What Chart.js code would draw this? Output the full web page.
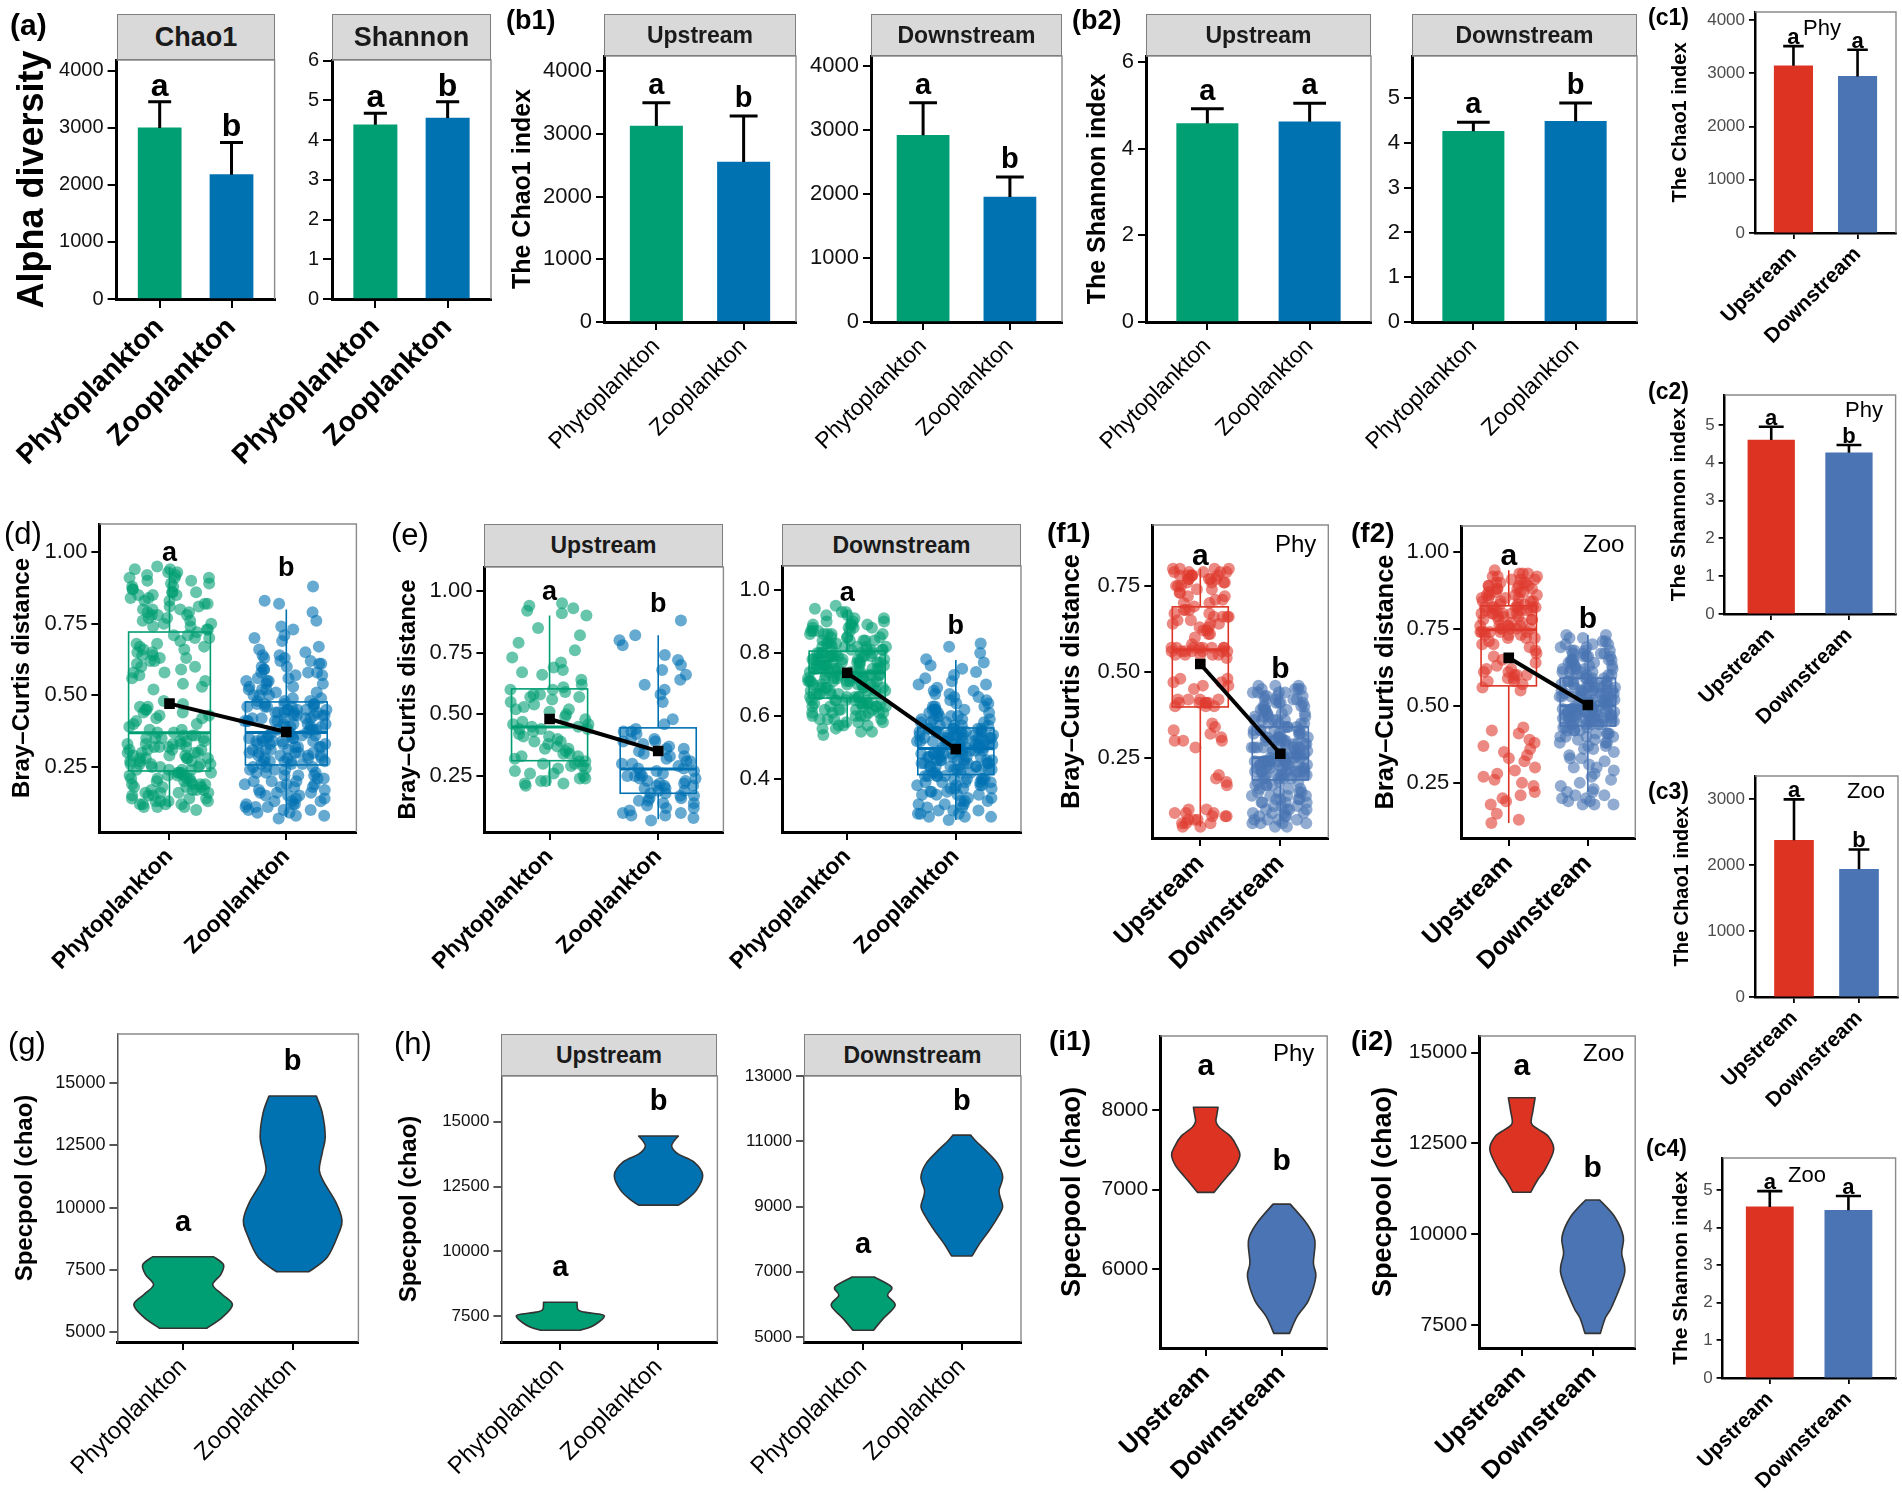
<!DOCTYPE html>
<html><head><meta charset="utf-8">
<script src="https://cdn.jsdelivr.net/npm/chart.js@4.4.1/dist/chart.umd.min.js"></script>
<style>
html,body{margin:0;padding:0;background:#fff;width:1902px;height:1502px;overflow:hidden;}
#root{position:relative;width:1902px;height:1502px;overflow:hidden;background:#fff;font-family:'Liberation Sans',Arial,Helvetica,sans-serif;}
.tag{position:absolute;line-height:1;color:#000;white-space:nowrap;}
.strip{position:absolute;box-sizing:border-box;background:#d9d9d9;border:1.5px solid #7f7f7f;display:flex;align-items:center;justify-content:center;font-weight:bold;color:#1a1a1a;white-space:nowrap;}
canvas{position:absolute;}
</style></head><body><div id="root"></div>
<script>
// ---------------- DATA ----------------
const plankton = ['Phytoplankton', 'Zooplankton'];
const sites = ['Upstream', 'Downstream'];

// (a) Alpha diversity (mean bar, upper error value, significance letters)
const aChao1Mean = [3000, 2180];
const aChao1Upper = [3460, 2745];
const aChao1Sig = ['a', 'b'];
const aShannonMean = [4.39, 4.56];
const aShannonUpper = [4.68, 4.97];
const aShannonSig = ['a', 'b'];
// (b1) Chao1 by site
const b1UpMean = [3128, 2553];
const b1UpUpper = [3500, 3287];
const b1UpSig = ['a', 'b'];
const b1DownMean = [2917, 1953];
const b1DownUpper = [3427, 2266];
const b1DownSig = ['a', 'b'];
// (b2) Shannon by site
const b2UpMean = [4.58, 4.62];
const b2UpUpper = [4.92, 5.05];
const b2UpSig = ['a', 'a'];
const b2DownMean = [4.26, 4.48];
const b2DownUpper = [4.46, 4.89];
const b2DownSig = ['a', 'b'];
// (c1)-(c4)
const c1Mean = [3140, 2940];
const c1Upper = [3510, 3440];
const c1Sig = ['a', 'a'];
const c2Mean = [4.60, 4.26];
const c2Upper = [4.95, 4.47];
const c2Sig = ['a', 'b'];
const c3Mean = [2380, 1940];
const c3Upper = [3000, 2240];
const c3Sig = ['a', 'b'];
const c4Mean = [4.55, 4.46];
const c4Upper = [4.97, 4.84];
const c4Sig = ['a', 'a'];

// tick values
const ticksChao4000 = [0, 1000, 2000, 3000, 4000];
const ticksChao3000 = [0, 1000, 2000, 3000];
const ticksSh6 = [0, 1, 2, 3, 4, 5, 6];
const ticksSh6b = [0, 2, 4, 6];
const ticksSh5 = [0, 1, 2, 3, 4, 5];
const ticksBC = [0.25, 0.5, 0.75, 1.0];
const ticksBC3 = [0.25, 0.5, 0.75];
const ticksBCd = [0.4, 0.6, 0.8, 1.0];
const ticksG = [5000, 7500, 10000, 12500, 15000];
const ticksHu = [7500, 10000, 12500, 15000];
const ticksHd = [5000, 7000, 9000, 11000, 13000];
const ticksI1 = [6000, 7000, 8000];
const ticksI2 = [7500, 10000, 12500, 15000];

// (d) Bray-Curtis distances
const dPhy = [0.11,0.11,0.12,0.12,0.13,0.13,0.14,0.15,0.15,0.16,0.16,0.17,0.17,0.18,0.18,0.19,0.19,0.20,0.20,0.21,0.21,0.22,0.22,0.23,0.23,
0.24,0.24,0.25,0.25,0.26,0.26,0.27,0.27,0.28,0.28,0.29,0.29,0.30,0.30,0.31,0.31,0.32,0.32,0.33,0.33,0.34,0.35,0.35,0.36,0.37,
0.38,0.39,0.40,0.41,0.42,0.43,0.44,0.45,0.46,0.47,0.53,0.55,0.57,0.58,0.60,0.61,0.62,0.63,0.64,0.65,0.66,0.67,0.68,0.70,0.71,
0.73,0.74,0.75,0.76,0.77,0.78,0.78,0.79,0.80,0.81,0.82,0.83,0.84,0.85,0.85,0.86,0.87,0.88,0.89,0.90,0.91,0.92,0.93,0.94,0.95,
0.10,0.11,0.12,0.13,0.13,0.14,0.14,0.15,0.16,0.16,0.17,0.18,0.18,0.19,0.19,0.20,0.21,0.21,0.22,0.22,0.23,0.23,0.24,0.12,0.17,
0.24,0.25,0.26,0.26,0.27,0.28,0.28,0.29,0.30,0.30,0.31,0.32,0.32,0.33,0.34,0.34,0.35,0.36,0.36,0.37,0.28,0.31,0.33,0.26,0.35,
0.38,0.40,0.42,0.43,0.44,0.45,0.46,0.48,0.52,0.54,0.56,0.58,0.59,0.60,0.62,0.63,0.64,0.65,0.66,0.67,0.68,0.69,0.70,0.71,0.72,
0.73,0.74,0.76,0.77,0.78,0.79,0.80,0.81,0.82,0.83,0.84,0.85,0.86,0.87,0.88,0.89,0.90,0.91,0.92,0.93,0.94,0.75,0.80,0.86,0.91];
const dZoo = [0.07,0.08,0.09,0.10,0.10,0.11,0.12,0.13,0.13,0.14,0.15,0.16,0.16,0.17,0.18,0.19,0.19,0.20,0.21,0.22,0.22,0.23,0.24,0.25,0.25,
0.26,0.26,0.27,0.27,0.28,0.28,0.29,0.29,0.30,0.30,0.31,0.31,0.32,0.32,0.33,0.33,0.34,0.34,0.35,0.35,0.35,0.36,0.36,0.37,0.37,
0.38,0.38,0.39,0.39,0.40,0.40,0.41,0.41,0.42,0.42,0.43,0.43,0.44,0.44,0.44,0.45,0.45,0.46,0.46,0.46,0.47,0.47,0.47,0.48,0.48,
0.49,0.50,0.51,0.52,0.53,0.54,0.55,0.56,0.57,0.58,0.59,0.60,0.61,0.62,0.63,0.64,0.65,0.67,0.69,0.71,0.73,0.76,0.79,0.82,0.88,
0.08,0.09,0.10,0.11,0.12,0.12,0.13,0.14,0.15,0.15,0.16,0.17,0.18,0.18,0.19,0.20,0.20,0.21,0.22,0.23,0.23,0.24,0.24,0.25,0.11,
0.26,0.27,0.27,0.28,0.28,0.29,0.30,0.30,0.31,0.31,0.32,0.33,0.33,0.34,0.34,0.35,0.35,0.36,0.36,0.37,0.29,0.32,0.34,0.30,0.27,
0.37,0.38,0.39,0.39,0.40,0.41,0.41,0.42,0.42,0.43,0.43,0.44,0.45,0.45,0.46,0.46,0.47,0.47,0.40,0.42,0.44,0.38,0.41,0.45,0.43,
0.48,0.49,0.50,0.51,0.52,0.53,0.54,0.55,0.56,0.57,0.58,0.59,0.60,0.61,0.62,0.63,0.64,0.52,0.55,0.50,0.58,0.66,0.70,0.74,0.83];
const dBox = [{lo:0.11,q1:0.236,med:0.369,q3:0.721,hi:0.945},{lo:0.075,q1:0.257,med:0.37,q3:0.477,hi:0.80}];
const dMean = [0.471, 0.372];
const dSig = ['a', 'b'];
const dSigY = [0.996, 0.944];

// (e) Upstream / Downstream
const eUpPhy = [0.21,0.22,0.22,0.23,0.23,0.24,0.25,0.26,0.27,0.28,0.28,0.29,0.30,0.30,0.31,
0.32,0.33,0.34,0.34,0.35,0.36,0.37,0.38,0.39,0.40,0.41,0.42,0.43,0.44,0.44,
0.45,0.46,0.47,0.48,0.50,0.51,0.52,0.53,0.55,0.56,0.57,0.58,0.59,0.60,0.60,
0.62,0.64,0.66,0.68,0.69,0.71,0.73,0.76,0.79,0.82,0.90,0.91,0.92,0.94,0.95,
0.24,0.29,0.33,0.36,0.41,0.44,0.45,0.49,0.54,0.58,0.61,0.67,0.85,0.93,0.26,0.31,0.39,0.46,0.52,0.57];
const eUpZoo = [0.07,0.08,0.09,0.10,0.10,0.11,0.12,0.13,0.14,0.14,0.15,0.16,0.16,0.17,0.18,
0.19,0.19,0.20,0.21,0.21,0.22,0.23,0.23,0.24,0.25,0.25,0.26,0.27,0.27,0.28,
0.29,0.30,0.31,0.32,0.33,0.34,0.35,0.36,0.37,0.38,0.39,0.40,0.42,0.43,0.44,
0.46,0.48,0.55,0.58,0.62,0.64,0.66,0.68,0.70,0.72,0.74,0.78,0.80,0.82,0.88,
0.09,0.12,0.15,0.18,0.20,0.22,0.24,0.26,0.28,0.30,0.33,0.36,0.40,0.43,0.17,0.21,0.25,0.31,0.39,0.60];
const eUpBox = [{lo:0.21,q1:0.312,med:0.449,q3:0.603,hi:0.90},{lo:0.075,q1:0.18,med:0.278,q3:0.445,hi:0.82}];
const eUpMean = [0.481, 0.351];
const eUpSig = ['a', 'b'];
const eUpSigY = [0.992, 0.943];
const eDownPhy = [0.54,0.55,0.56,0.57,0.57,0.58,0.59,0.59,0.60,0.60,0.61,0.61,0.62,0.62,0.63,0.63,0.63,0.64,0.64,0.64,0.65,0.65,0.65,0.66,0.66,
0.66,0.67,0.67,0.67,0.68,0.68,0.68,0.69,0.69,0.69,0.70,0.70,0.70,0.71,0.71,0.71,0.72,0.72,0.72,0.72,0.73,0.73,0.73,0.74,0.74,
0.74,0.74,0.75,0.75,0.75,0.76,0.76,0.76,0.76,0.77,0.77,0.77,0.78,0.78,0.78,0.78,0.79,0.79,0.79,0.79,0.80,0.80,0.80,0.81,0.81,
0.81,0.82,0.82,0.82,0.83,0.83,0.84,0.84,0.85,0.85,0.86,0.86,0.87,0.87,0.88,0.88,0.89,0.89,0.90,0.90,0.91,0.92,0.93,0.94,0.95,
0.55,0.56,0.58,0.58,0.59,0.60,0.61,0.61,0.62,0.62,0.63,0.63,0.64,0.64,0.64,0.65,0.65,0.65,0.66,0.60,0.62,0.63,0.57,0.59,0.61,
0.66,0.67,0.67,0.68,0.68,0.69,0.69,0.70,0.70,0.70,0.71,0.71,0.71,0.72,0.72,0.72,0.73,0.73,0.73,0.74,0.67,0.69,0.70,0.71,0.72,
0.74,0.75,0.75,0.75,0.76,0.76,0.76,0.77,0.77,0.77,0.78,0.78,0.78,0.79,0.79,0.79,0.80,0.80,0.80,0.75,0.76,0.77,0.78,0.79,0.80,
0.81,0.81,0.82,0.82,0.83,0.83,0.84,0.84,0.85,0.85,0.86,0.86,0.87,0.87,0.88,0.88,0.89,0.89,0.90,0.91,0.92,0.93,0.82,0.84,0.86];
const eDownZoo = [0.27,0.28,0.28,0.29,0.30,0.31,0.32,0.32,0.33,0.34,0.35,0.35,0.36,0.37,0.37,0.38,0.38,0.39,0.39,0.40,0.40,0.40,0.41,0.41,0.41,
0.42,0.42,0.43,0.43,0.44,0.44,0.44,0.45,0.45,0.45,0.46,0.46,0.46,0.47,0.47,0.47,0.48,0.48,0.48,0.48,0.49,0.49,0.49,0.50,0.50,
0.50,0.50,0.51,0.51,0.51,0.52,0.52,0.52,0.52,0.53,0.53,0.53,0.53,0.54,0.54,0.54,0.54,0.55,0.55,0.55,0.55,0.56,0.56,0.56,0.56,
0.57,0.57,0.58,0.58,0.59,0.59,0.60,0.60,0.61,0.62,0.62,0.63,0.64,0.65,0.66,0.67,0.68,0.70,0.71,0.73,0.75,0.77,0.80,0.82,0.83,
0.28,0.29,0.30,0.30,0.31,0.32,0.33,0.33,0.34,0.35,0.36,0.36,0.37,0.38,0.38,0.39,0.39,0.40,0.40,0.41,0.41,0.35,0.37,0.39,0.29,
0.42,0.42,0.43,0.43,0.43,0.44,0.44,0.45,0.45,0.46,0.46,0.46,0.47,0.47,0.48,0.48,0.48,0.49,0.49,0.49,0.44,0.45,0.47,0.43,0.46,
0.50,0.50,0.51,0.51,0.51,0.52,0.52,0.52,0.53,0.53,0.53,0.54,0.54,0.54,0.55,0.55,0.55,0.56,0.56,0.51,0.52,0.53,0.54,0.55,0.50,
0.57,0.57,0.58,0.58,0.59,0.59,0.60,0.61,0.61,0.62,0.63,0.63,0.64,0.65,0.66,0.67,0.68,0.69,0.70,0.72,0.74,0.76,0.78,0.60,0.62];
const eDownBox = [{lo:0.565,q1:0.657,med:0.737,q3:0.806,hi:0.935},{lo:0.27,q1:0.414,med:0.497,q3:0.562,hi:0.778}];
const eDownMean = [0.737, 0.495];
const eDownSig = ['a', 'b'];
const eDownSigY = [0.99, 0.883];

// (f1) Phy, (f2) Zoo
const f1Up = [0.05,0.06,0.06,0.07,0.07,0.08,0.08,0.09,0.09,0.10,0.17,0.19,0.20,0.28,0.30,0.30,0.31,0.32,0.34,0.35,
0.40,0.40,0.41,0.41,0.41,0.42,0.42,0.42,0.45,0.46,0.47,0.47,0.48,0.54,0.55,0.55,0.55,0.56,0.56,0.56,
0.56,0.57,0.57,0.57,0.57,0.57,0.57,0.60,0.61,0.62,0.63,0.64,0.64,0.65,0.66,0.66,0.67,0.68,0.68,
0.70,0.71,0.72,0.73,0.74,0.75,0.75,0.76,0.76,0.77,0.77,0.77,0.78,0.78,0.78,0.79,0.79,0.79,0.80,0.80,
0.06,0.07,0.08,0.09,0.10,0.05,0.18,0.30,0.33,0.41,0.41,0.42,0.40,0.46,0.48,0.55,0.56,0.56,0.57,0.57,
0.56,0.55,0.58,0.61,0.63,0.65,0.66,0.67,0.68,0.69,0.70,0.72,0.74,0.75,0.76,0.77,0.78,0.78,0.79,0.80,
0.64,0.62,0.66,0.71,0.73,0.76,0.77,0.79,0.80,0.78];
const f1Down = [0.05,0.06,0.06,0.07,0.07,0.08,0.08,0.09,0.09,0.10,0.10,0.11,0.11,0.12,0.12,0.13,0.13,0.14,0.14,0.15,0.15,0.16,0.17,0.17,0.18,
0.19,0.19,0.19,0.20,0.20,0.20,0.21,0.21,0.21,0.22,0.22,0.22,0.23,0.23,0.23,0.23,0.24,0.24,0.24,0.24,0.25,0.25,0.25,0.25,0.25,
0.26,0.26,0.26,0.27,0.27,0.27,0.28,0.28,0.28,0.29,0.29,0.29,0.30,0.30,0.30,0.31,0.31,0.31,0.32,0.32,0.32,0.33,0.33,0.33,0.34,
0.34,0.35,0.35,0.36,0.36,0.37,0.37,0.38,0.38,0.39,0.39,0.40,0.40,0.41,0.41,0.42,0.42,0.43,0.43,0.44,0.44,0.45,0.45,0.46,0.46,
0.05,0.06,0.07,0.07,0.08,0.09,0.09,0.10,0.10,0.11,0.12,0.12,0.13,0.13,0.14,0.14,0.15,0.15,0.16,0.16,0.17,0.17,0.18,0.18,0.06,
0.19,0.19,0.20,0.20,0.20,0.21,0.21,0.21,0.22,0.22,0.22,0.23,0.23,0.23,0.24,0.24,0.24,0.24,0.25,0.25,0.20,0.22,0.23,0.21,0.24,
0.25,0.26,0.26,0.26,0.27,0.27,0.27,0.28,0.28,0.28,0.29,0.29,0.29,0.30,0.30,0.30,0.31,0.31,0.31,0.32,0.32,0.33,0.33,0.34,0.34,
0.35,0.35,0.36,0.36,0.37,0.37,0.38,0.38,0.39,0.39,0.40,0.40,0.41,0.41,0.42,0.42,0.43,0.43,0.44,0.44,0.45,0.45,0.46,0.36,0.39];
const f1Box = [{lo:0.05,q1:0.398,med:0.564,q3:0.689,hi:0.80},{lo:0.05,q1:0.186,med:0.25,q3:0.34,hi:0.46}];
const f1Mean = [0.523, 0.262];
const f1Sig = ['a', 'b'];
const f1SigY = [0.834, 0.506];
const f2Up = [0.12,0.13,0.18,0.19,0.20,0.22,0.24,0.26,0.27,0.29,0.30,0.32,0.34,0.35,0.36,0.37,0.39,0.41,0.43,0.55,
0.57,0.58,0.59,0.60,0.60,0.61,0.62,0.63,0.65,0.67,0.69,0.70,0.71,0.72,0.73,0.73,0.74,0.74,0.74,0.75,
0.75,0.75,0.76,0.76,0.77,0.78,0.78,0.79,0.79,0.80,0.80,0.80,0.81,0.81,0.81,0.82,0.82,0.82,0.82,0.83,
0.84,0.84,0.85,0.85,0.86,0.86,0.87,0.87,0.88,0.88,0.89,0.89,0.90,0.90,0.91,0.91,0.92,0.92,0.93,0.94,
0.15,0.21,0.25,0.28,0.33,0.38,0.42,0.56,0.58,0.59,0.60,0.61,0.62,0.64,0.66,0.68,0.70,0.72,0.73,0.74,
0.74,0.75,0.75,0.76,0.76,0.77,0.78,0.79,0.80,0.80,0.81,0.81,0.82,0.82,0.83,0.83,0.84,0.84,0.85,0.85,
0.86,0.86,0.87,0.87,0.88,0.88,0.89,0.89,0.90,0.90,0.91,0.92,0.93,0.93,0.72,0.74,0.76,0.78,0.80,0.82];
const f2Down = [0.18,0.18,0.19,0.20,0.21,0.22,0.23,0.25,0.27,0.29,0.30,0.32,0.33,0.35,0.36,0.37,0.38,0.39,0.40,0.40,0.41,0.41,0.42,0.42,0.43,
0.44,0.44,0.44,0.45,0.45,0.45,0.46,0.46,0.46,0.47,0.47,0.47,0.47,0.48,0.48,0.48,0.48,0.49,0.49,0.49,0.49,0.50,0.50,0.50,0.50,
0.51,0.51,0.51,0.52,0.52,0.52,0.53,0.53,0.53,0.54,0.54,0.54,0.55,0.55,0.55,0.56,0.56,0.56,0.57,0.57,0.57,0.58,0.58,0.58,0.59,
0.59,0.60,0.60,0.61,0.61,0.62,0.62,0.63,0.63,0.64,0.64,0.65,0.65,0.66,0.66,0.67,0.67,0.68,0.68,0.69,0.70,0.70,0.71,0.72,0.73,
0.18,0.19,0.20,0.21,0.22,0.24,0.26,0.28,0.30,0.31,0.33,0.34,0.36,0.37,0.38,0.39,0.40,0.41,0.41,0.42,0.42,0.43,0.43,0.38,0.40,
0.44,0.44,0.45,0.45,0.45,0.46,0.46,0.46,0.47,0.47,0.47,0.48,0.48,0.48,0.49,0.49,0.49,0.50,0.50,0.44,0.46,0.47,0.48,0.49,0.45,
0.50,0.51,0.51,0.52,0.52,0.53,0.53,0.54,0.54,0.55,0.55,0.56,0.56,0.57,0.57,0.58,0.58,0.59,0.59,0.52,0.53,0.54,0.55,0.56,0.57,
0.60,0.60,0.61,0.61,0.62,0.62,0.63,0.63,0.64,0.64,0.65,0.65,0.66,0.66,0.67,0.67,0.68,0.68,0.69,0.70,0.71,0.72,0.73,0.62,0.65];
const f2Box = [{lo:0.12,q1:0.565,med:0.747,q3:0.825,hi:0.94},{lo:0.22,q1:0.435,med:0.50,q3:0.59,hi:0.73}];
const f2Mean = [0.656, 0.503];
const f2Sig = ['a', 'b'];
const f2SigY = [0.984, 0.779];

// (g)-(i) Specpool violins: [value, relative density]
const gPhyViolin = [[5150,0.48],[5600,0.8],[6100,1.0],[6500,0.8],[6900,0.6],[7300,0.76],[7700,0.82],[8024,0.62]];
const gZooViolin = [[7422,0.33],[8000,0.7],[9000,0.94],[9500,1.0],[10200,0.88],[11000,0.64],[11500,0.54],[12200,0.6],[12843,0.66],[13800,0.6],[14478,0.48]];
const gSig = ['a', 'b'];
const gSigY = [9378, 15855];
const hUpPhyViolin = [[6960,0.45],[7100,0.7],[7250,0.85],[7450,0.98],[7560,0.95],[7660,0.55],[7750,0.4],[8040,0.38]];
const hUpZooViolin = [[11786,0.45],[11980,0.62],[12365,0.86],[12944,1.0],[13450,0.8],[13750,0.45],[14036,0.3],[14250,0.35],[14450,0.45]];
const hUpSig = ['a', 'b'];
const hUpSigY = [9350, 15772];
const hDownPhyViolin = [[5205,0.23],[5563,0.45],[5972,0.72],[6279,0.55],[6534,0.64],[6840,0.25]];
const hDownZooViolin = [[7485,0.23],[7900,0.42],[8273,0.62],[8700,0.82],[8988,0.92],[9300,0.86],[9500,0.84],[9908,0.92],[10328,0.8],[10727,0.53],[11000,0.32],[11187,0.2]];
const hDownSig = ['a', 'b'];
const hDownSigY = [7813, 12209];
const i1UpViolin = [[6966,0.24],[7163,0.62],[7300,0.88],[7435,1.0],[7550,0.9],[7666,0.73],[7780,0.4],[7853,0.3],[7950,0.33],[8034,0.36]];
const i1DownViolin = [[5197,0.23],[5406,0.45],[5615,0.79],[5907,1.0],[6079,0.93],[6368,0.97],[6577,0.73],[6819,0.25]];
const i1Sig = ['a', 'b'];
const i1SigY = [8543, 7350];
const i2UpViolin = [[11155,0.28],[11500,0.5],[11769,0.72],[12320,1.0],[12687,0.84],[12900,0.5],[13055,0.3],[13400,0.35],[13760,0.42]];
const i2DownViolin = [[7270,0.24],[7700,0.4],[8003,0.6],[8922,1.0],[9472,0.91],[9930,0.96],[10482,0.69],[10943,0.22]];
const i2Sig = ['a', 'b'];
const i2SigY = [14614, 11815];

// ---------------- STYLE ----------------
const FONT = "'Liberation Sans', Arial, Helvetica, sans-serif";
const GREEN = '#009e73', BLUE = '#0072b2', RED = '#dc3322', STEEL = '#4a74b3';
const GREEN_A = 'rgba(0,158,115,0.6)', BLUE_A = 'rgba(0,114,178,0.6)';
const RED_A = 'rgba(224,59,46,0.6)', STEEL_A = 'rgba(74,116,179,0.6)';
Chart.defaults.font.family = FONT;
Chart.defaults.animation = false;
const root = document.getElementById('root');
const fmtInt = v => String(Math.round(v));
const fmt2 = v => v.toFixed(2);
const fmt1 = v => v.toFixed(1);
// horizontal spread of jittered points (visual offset only, not data)
const spread = i => { const s = Math.sin(i * 12.9898 + 4.1414) * 43758.5453; return s - Math.floor(s) - 0.5; };

function smooth(ctx, p) {
  for (let i = 0; i < p.length - 1; i++) {
    const p0 = p[Math.max(i - 1, 0)], p1 = p[i], p2 = p[i + 1], p3 = p[Math.min(i + 2, p.length - 1)];
    ctx.bezierCurveTo(p1[0] + (p2[0] - p0[0]) / 6, p1[1] + (p2[1] - p0[1]) / 6,
                      p2[0] - (p3[0] - p1[0]) / 6, p2[1] - (p3[1] - p1[1]) / 6, p2[0], p2[1]);
  }
}

const decor = {
  id: 'decor',
  beforeDatasetsDraw(chart) {
    const o = chart.canvas._deco; if (!o) return;
    const ctx = chart.ctx, x = chart.scales.x, y = chart.scales.y;
    const unit = x.getPixelForValue(2) - x.getPixelForValue(1);
    ctx.save();
    if (o.violins) {
      o.violins.forEach((v, i) => {
        const cx = x.getPixelForValue(i + 1), half = 0.45 * unit;
        const left = v.pts.map(p => [cx - p[1] * half, y.getPixelForValue(p[0])]);
        const right = v.pts.map(p => [cx + p[1] * half, y.getPixelForValue(p[0])]).reverse();
        ctx.beginPath();
        ctx.moveTo(left[0][0], left[0][1]);
        smooth(ctx, left);
        ctx.lineTo(right[0][0], right[0][1]);
        smooth(ctx, right);
        ctx.closePath();
        ctx.fillStyle = v.color; ctx.fill();
        ctx.lineWidth = 1.6; ctx.strokeStyle = '#333'; ctx.lineJoin = 'round'; ctx.stroke();
      });
    }
    if (o.boxes) {
      o.boxes.forEach((b, i) => {
        const cx = x.getPixelForValue(i + 1), hw = 0.35 * unit, py = v => y.getPixelForValue(v);
        ctx.strokeStyle = o.boxColors[i]; ctx.lineWidth = 1.6;
        ctx.strokeRect(cx - hw, py(b.q3), 2 * hw, py(b.q1) - py(b.q3));
        ctx.beginPath();
        ctx.moveTo(cx, py(b.q3)); ctx.lineTo(cx, py(b.hi));
        ctx.moveTo(cx, py(b.q1)); ctx.lineTo(cx, py(b.lo));
        ctx.stroke();
        ctx.lineWidth = 3;
        ctx.beginPath(); ctx.moveTo(cx - hw, py(b.med)); ctx.lineTo(cx + hw, py(b.med)); ctx.stroke();
      });
    }
    ctx.restore();
  },
  afterDatasetsDraw(chart) {
    const o = chart.canvas._deco; if (!o) return;
    const ctx = chart.ctx, ca = chart.chartArea, x = chart.scales.x, y = chart.scales.y;
    const unit = x.getPixelForValue(2) - x.getPixelForValue(1);
    ctx.save();
    if (o.upper) {
      ctx.strokeStyle = '#000'; ctx.lineWidth = o.errW || 3;
      o.upper.forEach((u, i) => {
        const cx = x.getPixelForValue(i + 1), y0 = y.getPixelForValue(o.mean[i]), y1 = y.getPixelForValue(u), hw = 0.16 * unit;
        ctx.beginPath(); ctx.moveTo(cx, y0); ctx.lineTo(cx, y1);
        ctx.moveTo(cx - hw, y1); ctx.lineTo(cx + hw, y1); ctx.stroke();
      });
    }
    ctx.strokeStyle = '#8a8a8a'; ctx.lineWidth = 1.4;
    ctx.beginPath(); ctx.moveTo(ca.left, ca.top); ctx.lineTo(ca.right, ca.top); ctx.lineTo(ca.right, ca.bottom); ctx.stroke();
    if (o.sig) {
      ctx.fillStyle = '#000'; ctx.font = o.sigFont; ctx.textAlign = 'center';
      o.sig.forEach((s, i) => {
        const cx = x.getPixelForValue(i + 1);
        if (o.sigY) { ctx.textBaseline = 'middle'; ctx.fillText(s, cx, y.getPixelForValue(o.sigY[i])); }
        else { ctx.textBaseline = 'alphabetic'; ctx.fillText(s, cx, y.getPixelForValue(o.upper[i]) - o.sigGap); }
      });
    }
    ctx.restore();
  }
};
Chart.register(decor);

function makePanel(p, type, datasets, deco) {
  const [bl, bt, bw, bh] = p.box;
  const EXTRA = 24;
  const L = p.yTitle ? bl - (p.yTitleX - 0.6 * p.yTitleSize) + EXTRA : 170;
  const T = 30, B = p.B;
  const W = Math.ceil(L + bw + 14), H = Math.ceil(T + bh + B);
  const cv = document.createElement('canvas');
  cv.width = W; cv.height = H;
  cv.style.left = (bl - L) + 'px'; cv.style.top = (bt - T) + 'px';
  cv.style.width = W + 'px'; cv.style.height = H + 'px';
  root.appendChild(cv);
  cv._deco = deco;
  const tl = p.tickLen || 8, aw = p.axisW || 3, yac = p.yAxisColor || '#000';
  new Chart(cv, {
    type: type,
    data: { datasets: datasets },
    options: {
      responsive: false, animation: false, devicePixelRatio: 1,
      layout: { padding: { left: 0, top: T, right: W - L - bw, bottom: H - T - bh - B } },
      plugins: { legend: { display: false }, tooltip: { enabled: false }, title: { display: false } },
      scales: {
        x: {
          type: 'linear', min: 0.4, max: 2.6, offset: false,
          afterBuildTicks: s => { s.ticks = [{ value: 1 }, { value: 2 }]; },
          afterFit: s => { s.height = B; s.paddingLeft = 0; s.paddingRight = 0; },
          ticks: { autoSkip: false, minRotation: 45, maxRotation: 45, padding: 3, color: '#000', font: p.xFont,
                   callback: v => p.labels[Math.round(v) - 1] },
          grid: { display: true, drawOnChartArea: false, drawTicks: true, tickLength: tl, color: '#000', lineWidth: p.tickW || 2, offset: false },
          border: { display: true, color: '#000', width: aw }
        },
        y: {
          type: 'linear', min: p.yMin || 0, max: p.yMax,
          afterBuildTicks: s => { s.ticks = p.yTicks.map(v => ({ value: v })); },
          afterFit: s => { s.width = L; s.paddingTop = 0; s.paddingBottom = 0; },
          ticks: { autoSkip: false, padding: 4, color: p.tickColor || '#111', font: p.tickFont, callback: v => p.yFmt(v) },
          grid: { display: true, drawOnChartArea: false, drawTicks: true, tickLength: tl, color: yac, lineWidth: p.tickW || 2 },
          border: { display: true, color: yac, width: p.yAxisW || aw },
          title: p.yTitle ? { display: true, text: p.yTitle, color: '#000', padding: { top: EXTRA, bottom: 0 }, font: { size: p.yTitleSize, weight: 'bold' } } : { display: false }
        }
      }
    }
  });
}

function barPanel(p) {
  const ds = [{ type: 'bar', data: p.mean.map((v, i) => ({ x: i + 1, y: v })), backgroundColor: p.colors,
                borderWidth: 0, barThickness: 0.6 * p.box[2] / 2.2 }];
  makePanel(p, 'bar', ds, { mean: p.mean, upper: p.upper, sig: p.sig, sigFont: p.sigFont, sigGap: p.sigGap, errW: p.errW });
}
function cloud(vals, cat, color, r) {
  return { type: 'scatter', data: vals.map((v, i) => ({ x: cat + 0.72 * spread(i + cat * 1000), y: v })),
           backgroundColor: color, borderWidth: 0, pointRadius: r, pointHoverRadius: r };
}
function meanLine(m) {
  return { type: 'line', data: m.map((v, i) => ({ x: i + 1, y: v })), borderColor: '#000', backgroundColor: '#000',
           borderWidth: 4, pointStyle: 'rect', pointRadius: 7.5, pointBorderWidth: 0, showLine: true, fill: false };
}
function boxPanel(p) {
  const ds = [meanLine(p.mean), cloud(p.vals[0], 1, p.pointColors[0], 6), cloud(p.vals[1], 2, p.pointColors[1], 6)];
  makePanel(p, 'scatter', ds, { boxes: p.boxes, boxColors: p.colors, sig: p.sig, sigY: p.sigY, sigFont: p.sigFont });
}
function violinPanel(p) {
  makePanel(p, 'scatter', [], { violins: [{ pts: p.violins[0], color: p.colors[0] }, { pts: p.violins[1], color: p.colors[1] }],
    sig: p.sig, sigY: p.sigY, sigFont: p.sigFont });
}

// ---------------- PANELS ----------------
const F = (s, w, st) => ({ size: s, weight: w || 'normal', style: st || 'normal' });
// (a)
barPanel({ box: [117, 60, 158, 239], yMax: 4190, yTicks: ticksChao4000, yFmt: fmtInt, yTitle: 'Alpha diversity', yTitleSize: 36, yTitleX: 33,
  labels: plankton, xFont: F(28, 'bold'), tickFont: F(20), tickLen: 9, B: 200, colors: [GREEN, BLUE],
  mean: aChao1Mean, upper: aChao1Upper, sig: aChao1Sig, sigFont: 'bold 32px ' + FONT, sigGap: 6 });
barPanel({ box: [332, 60, 159, 239], yMax: 6.02, yTicks: ticksSh6, yFmt: fmtInt,
  labels: plankton, xFont: F(28, 'bold'), tickFont: F(20), tickLen: 9, B: 200, colors: [GREEN, BLUE],
  mean: aShannonMean, upper: aShannonUpper, sig: aShannonSig, sigFont: 'bold 32px ' + FONT, sigGap: 6 });
// (b1)
barPanel({ box: [604, 56, 192, 266], yMax: 4245, yTicks: ticksChao4000, yFmt: fmtInt, yTitle: 'The Chao1 index', yTitleSize: 25, yTitleX: 523,
  labels: plankton, xFont: F(23), tickFont: F(22), B: 170, colors: [GREEN, BLUE],
  mean: b1UpMean, upper: b1UpUpper, sig: b1UpSig, sigFont: 'bold 29px ' + FONT, sigGap: 9 });
barPanel({ box: [871, 56, 191, 266], yMax: 4156, yTicks: ticksChao4000, yFmt: fmtInt,
  labels: plankton, xFont: F(23), tickFont: F(22), B: 170, colors: [GREEN, BLUE],
  mean: b1DownMean, upper: b1DownUpper, sig: b1DownSig, sigFont: 'bold 29px ' + FONT, sigGap: 9 });
// (b2)
barPanel({ box: [1146, 56, 225, 266], yMax: 6.14, yTicks: ticksSh6b, yFmt: fmtInt, yTitle: 'The Shannon index', yTitleSize: 25, yTitleX: 1098,
  labels: plankton, xFont: F(23), tickFont: F(22), B: 170, colors: [GREEN, BLUE],
  mean: b2UpMean, upper: b2UpUpper, sig: b2UpSig, sigFont: 'bold 29px ' + FONT, sigGap: 9 });
barPanel({ box: [1412, 56, 225, 266], yMax: 5.94, yTicks: ticksSh5, yFmt: fmtInt,
  labels: plankton, xFont: F(23), tickFont: F(22), B: 170, colors: [GREEN, BLUE],
  mean: b2DownMean, upper: b2DownUpper, sig: b2DownSig, sigFont: 'bold 29px ' + FONT, sigGap: 9 });
// (c1)-(c4)
const cCommon = { labels: sites, xFont: F(21, 'bold'), tickFont: F(17), tickColor: '#4d4d4d', tickLen: 6, axisW: 2.5, tickW: 1.8, B: 130,
  colors: [RED, STEEL], sigFont: 'bold 22px ' + FONT, sigGap: 2, errW: 2.6 };
barPanel(Object.assign({}, cCommon, { box: [1755, 12, 141, 221], yMax: 4150, yTicks: ticksChao4000, yFmt: fmtInt, yTitle: 'The Chao1 index', yTitleSize: 20, yTitleX: 1680,
  mean: c1Mean, upper: c1Upper, sig: c1Sig }));
barPanel(Object.assign({}, cCommon, { box: [1725, 395, 171, 219], yMax: 5.79, yTicks: ticksSh5, yFmt: fmtInt, yTitle: 'The Shannon index', yTitleSize: 21, yTitleX: 1680,
  mean: c2Mean, upper: c2Upper, sig: c2Sig }));
barPanel(Object.assign({}, cCommon, { box: [1755, 776, 143, 221], yMax: 3355, yTicks: ticksChao3000, yFmt: fmtInt, yTitle: 'The Chao1 index', yTitleSize: 20, yTitleX: 1682,
  mean: c3Mean, upper: c3Upper, sig: c3Sig }));
barPanel(Object.assign({}, cCommon, { box: [1723, 1158, 173, 220], yMax: 5.85, yTicks: ticksSh5, yFmt: fmtInt, yTitle: 'The Shannon index', yTitleSize: 21, yTitleX: 1682,
  mean: c4Mean, upper: c4Upper, sig: c4Sig }));
// (d), (e)
const bcCommon = { labels: plankton, xFont: F(23, 'bold'), tickFont: F(22), B: 180, colors: [GREEN, BLUE], pointColors: [GREEN_A, BLUE_A],
  sigFont: 'bold 27px ' + FONT, yTitleSize: 24 };
boxPanel(Object.assign({}, bcCommon, { box: [99, 524, 257, 308], yMin: 0.023, yMax: 1.098, yTicks: ticksBC, yFmt: fmt2,
  yTitle: 'Bray–Curtis distance', yTitleX: 22, vals: [dPhy, dZoo], boxes: dBox, mean: dMean, sig: dSig, sigY: dSigY }));
boxPanel(Object.assign({}, bcCommon, { box: [484, 567, 239, 265], yMin: 0.023, yMax: 1.097, yTicks: ticksBC, yFmt: fmt2,
  yTitle: 'Bray–Curtis distance', yTitleX: 408, vals: [eUpPhy, eUpZoo], boxes: eUpBox, mean: eUpMean, sig: eUpSig, sigY: eUpSigY }));
boxPanel(Object.assign({}, bcCommon, { box: [782, 566, 239, 266], yMin: 0.232, yMax: 1.076, yTicks: ticksBCd, yFmt: fmt1,
  vals: [eDownPhy, eDownZoo], boxes: eDownBox, mean: eDownMean, sig: eDownSig, sigY: eDownSigY }));
// (f1), (f2)
const fCommon = { labels: sites, xFont: F(25, 'bold'), tickFont: F(22), B: 190, colors: [RED, STEEL], pointColors: [RED_A, STEEL_A],
  sigFont: 'bold 30px ' + FONT, yTitleSize: 25.5 };
boxPanel(Object.assign({}, fCommon, { box: [1152, 525, 176, 313], yMin: 0.017, yMax: 0.927, yTicks: ticksBC3, yFmt: fmt2,
  yTitle: 'Bray–Curtis distance', yTitleX: 1072, vals: [f1Up, f1Down], boxes: f1Box, mean: f1Mean, sig: f1Sig, sigY: f1SigY }));
boxPanel(Object.assign({}, fCommon, { box: [1461, 526, 174, 312], yMin: 0.071, yMax: 1.084, yTicks: ticksBC, yFmt: fmt2,
  yTitle: 'Bray–Curtis distance', yTitleX: 1386, vals: [f2Up, f2Down], boxes: f2Box, mean: f2Mean, sig: f2Sig, sigY: f2SigY }));
// (g), (h)
const ghCommon = { labels: plankton, xFont: F(24), tickFont: F(18), B: 180, colors: [GREEN, BLUE], sigFont: 'bold 29px ' + FONT,
  yTitleSize: 24, yAxisColor: '#555', yAxisW: 1.5 };
violinPanel(Object.assign({}, ghCommon, { box: [117, 1034, 241, 308], yMin: 4600, yMax: 16970, yTicks: ticksG, yFmt: fmtInt,
  yTitle: 'Specpool (chao)', yTitleX: 25, violins: [gPhyViolin, gZooViolin], sig: gSig, sigY: gSigY }));
violinPanel(Object.assign({}, ghCommon, { box: [501, 1076, 216, 266], yMin: 6508, yMax: 16764, yTicks: ticksHu, yFmt: fmtInt, tickFont: F(17),
  yTitle: 'Specpool (chao)', yTitleX: 409, violins: [hUpPhyViolin, hUpZooViolin], sig: hUpSig, sigY: hUpSigY }));
violinPanel(Object.assign({}, ghCommon, { box: [804, 1076, 217, 266], yMin: 4847, yMax: 13000, yTicks: ticksHd, yFmt: fmtInt, tickFont: F(17),
  violins: [hDownPhyViolin, hDownZooViolin], sig: hDownSig, sigY: hDownSigY }));
// (i1), (i2)
const iCommon = { labels: sites, xFont: F(25, 'bold'), tickFont: F(21), B: 180, colors: [RED, STEEL], sigFont: 'bold 30px ' + FONT, yTitleSize: 27 };
violinPanel(Object.assign({}, iCommon, { box: [1160, 1036, 167, 312], yMin: 5013, yMax: 8929, yTicks: ticksI1, yFmt: fmtInt,
  yTitle: 'Specpool (chao)', yTitleX: 1072, violins: [i1UpViolin, i1DownViolin], sig: i1Sig, sigY: i1SigY }));
violinPanel(Object.assign({}, iCommon, { box: [1479, 1036, 156, 312], yMin: 6866, yMax: 15460, yTicks: ticksI2, yFmt: fmtInt,
  yTitle: 'Specpool (chao)', yTitleX: 1383, violins: [i2UpViolin, i2DownViolin], sig: i2Sig, sigY: i2SigY }));

// ---------------- TEXT OVERLAYS ----------------
const strips = [
  ['Chao1', 117, 14, 158, 46, 27], ['Shannon', 332, 14, 159, 46, 27],
  ['Upstream', 604, 14, 192, 42, 23], ['Downstream', 871, 14, 191, 42, 23],
  ['Upstream', 1146, 14, 225, 42, 23], ['Downstream', 1412, 14, 225, 42, 23],
  ['Upstream', 484, 524, 239, 43, 23], ['Downstream', 782, 524, 239, 42, 23],
  ['Upstream', 501, 1034, 216, 42, 23], ['Downstream', 804, 1034, 217, 42, 23]
];
strips.forEach(s => {
  const d = document.createElement('div'); d.className = 'strip'; d.textContent = s[0];
  d.style.cssText = `left:${s[1]}px;top:${s[2]}px;width:${s[3]}px;height:${s[4]}px;font-size:${s[5]}px;`;
  root.appendChild(d);
});
const tags = [
  ['(a)', 10, 10, 30, 'bold'], ['(b1)', 506, 7, 27, 'bold'], ['(b2)', 1072, 7, 27, 'bold'],
  ['(c1)', 1648, 6, 23, 'bold'], ['(c2)', 1648, 380, 23, 'bold'], ['(c3)', 1648, 780, 23, 'bold'], ['(c4)', 1646, 1137, 23, 'bold'],
  ['(d)', 4, 518, 31, 'normal'], ['(e)', 391, 519, 31, 'normal'], ['(f1)', 1047, 519, 28, 'bold'], ['(f2)', 1351, 519, 28, 'bold'],
  ['(g)', 8, 1028, 31, 'normal'], ['(h)', 394, 1028, 31, 'normal'], ['(i1)', 1049, 1027, 28, 'bold'], ['(i2)', 1351, 1027, 28, 'bold'],
  ['Phy', 1803, 17, 22, 'normal'], ['Phy', 1845, 399, 22, 'normal'], ['Zoo', 1847, 780, 22, 'normal'], ['Zoo', 1788, 1164, 22, 'normal'],
  ['Phy', 1275, 532, 24, 'normal'], ['Zoo', 1583, 532, 24, 'normal'], ['Phy', 1273, 1041, 24, 'normal'], ['Zoo', 1583, 1041, 24, 'normal']
];
tags.forEach(t => {
  const d = document.createElement('div'); d.className = 'tag'; d.textContent = t[0];
  d.style.cssText = `left:${t[1]}px;top:${t[2]}px;font-size:${t[3]}px;font-weight:${t[4]};`;
  root.appendChild(d);
});
</script></body></html>
